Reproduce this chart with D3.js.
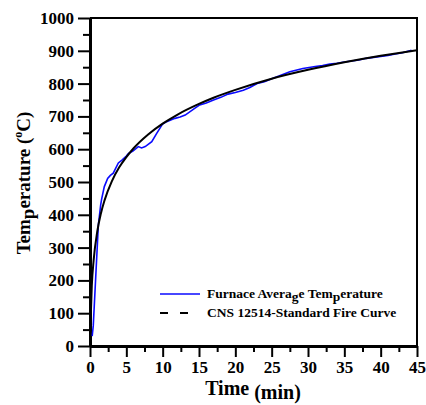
<!DOCTYPE html>
<html>
<head>
<meta charset="utf-8">
<script src="https://cdn.jsdelivr.net/npm/d3@7.9.0/dist/d3.min.js"></script>
<style>
  body { margin: 0; background: #fff; }
  svg { display: block; }
  text { font-family: "Liberation Serif", "Times New Roman", serif; font-weight: bold; fill: #000; }
</style>
</head>
<body>
<svg id="chart" width="426" height="405"></svg>
<script>
// standard fire curve
const fireTime = [0, 0.25, 0.5, 1, 1.5, 2, 3, 4, 5, 6, 8, 10, 12, 15, 17, 20, 25, 30, 35, 40, 45];
const fireTemp = [20, 185, 261, 349, 404, 444, 502, 544, 576, 603, 645, 678, 705, 738, 757, 781, 815, 842, 865, 885, 902];

// furnace average temperature
const furnaceTime = [0.3, 0.45, 1.15, 1.47, 1.6, 1.97, 2.43, 2.8, 3.2, 3.9, 4.4, 5.0, 5.3, 5.9, 6.65, 7.1, 7.6, 8.5, 9.2, 10.0, 10.55, 11.2, 11.7, 12.4, 13.1, 14.45, 15.1, 16, 17, 18, 19, 20, 21.1, 22, 23, 24, 25, 26, 27.5, 29.3, 31, 32, 33, 34, 35, 36, 37, 38, 39, 40, 41, 42, 43, 44.25];
const furnaceTemp = [30, 62, 369, 430, 448, 486, 511, 520, 527, 558, 567, 579, 587, 594, 608, 604, 608, 623, 649, 677, 684, 690, 694, 698, 704, 725, 735, 741, 750, 758, 768, 773, 780, 788, 800, 806, 815, 823, 836, 846, 852, 855, 860, 862, 866, 869, 872, 877, 880, 883, 886, 890, 894, 902];

const xMajor = d3.range(0, 46, 5);
const yMajor = d3.range(0, 1001, 100);

const svg = d3.select('#chart');
const plotL = 90, plotR = 417, plotT = 18, plotB = 346;

const x = d3.scaleLinear().domain([0, 45]).range([plotL, plotR]);
const y = d3.scaleLinear().domain([0, 1000]).range([plotB, plotT]);

// frame top / right
svg.append('path')
  .attr('d', `M${plotL},${plotT}H${plotR}V${plotB}`)
  .attr('fill', 'none').attr('stroke', '#000').attr('stroke-width', 2);

// y axis
const yAxis = svg.append('g').attr('transform', `translate(${plotL},0)`);
yAxis.call(d3.axisLeft(y).tickValues(d3.range(50, 1000, 100)).tickSize(7).tickFormat(''));
yAxis.call(g => g.select('.domain').remove());
const yAxis2 = svg.append('g').attr('transform', `translate(${plotL},0)`)
  .call(d3.axisLeft(y).tickValues(yMajor).tickSize(12).tickPadding(4).tickSizeOuter(0).tickFormat(d3.format('d')));
yAxis2.select('.domain').attr('stroke-width', 3);

// x axis
const xAxis = svg.append('g').attr('transform', `translate(0,${plotB})`)
  .call(d3.axisBottom(x).tickValues(d3.range(2.5, 45, 5)).tickSize(6).tickFormat(''));
xAxis.select('.domain').remove();
const xAxis2 = svg.append('g').attr('transform', `translate(0,${plotB})`)
  .call(d3.axisBottom(x).tickValues(xMajor).tickSize(11).tickPadding(4).tickSizeOuter(0).tickFormat(d3.format('d')));
xAxis2.select('.domain').attr('stroke-width', 3);

[yAxis2, xAxis2].forEach(g => g
  .attr('font-family', '"Liberation Serif", serif')
  .attr('font-size', 17)
  .attr('font-weight', 'bold'));
svg.selectAll('.tick line').attr('stroke-width', 2);

// curves
const fireLine = d3.line().x(d => x(d[0])).y(d => y(d[1])).curve(d3.curveMonotoneX);
const furnLine = d3.line().x(d => x(d[0])).y(d => y(d[1]));

svg.append('path')
  .datum(furnaceTime.map((t, i) => [t, furnaceTemp[i]]))
  .attr('d', furnLine)
  .attr('fill', 'none').attr('stroke', '#0a0aff').attr('stroke-width', 1.6);

svg.append('path')
  .datum(fireTime.map((t, i) => [t, fireTemp[i]]))
  .attr('d', fireLine)
  .attr('fill', 'none').attr('stroke', '#000').attr('stroke-width', 2);

// legend
const leg = svg.append('g');
leg.append('line').attr('x1', 160).attr('x2', 200).attr('y1', 294).attr('y2', 294)
  .attr('stroke', '#0a0aff').attr('stroke-width', 1.6);
leg.append('line').attr('x1', 160).attr('x2', 200).attr('y1', 313).attr('y2', 313)
  .attr('stroke', '#000').attr('stroke-width', 2).attr('stroke-dasharray', '8,12');

const t1 = leg.append('text').attr('x', 207).attr('y', 298).attr('font-size', 13.5);
t1.append('tspan').text('Furnace Avera');
t1.append('tspan').attr('dy', 3).text('g');
t1.append('tspan').attr('dy', -3).text('e Tem');
t1.append('tspan').attr('dy', 3).text('p');
t1.append('tspan').attr('dy', -3).text('erature');

leg.append('text').attr('x', 207).attr('y', 317).attr('font-size', 13.5)
  .text('CNS 12514-Standard Fire Curve');

// axis titles
const xt = svg.append('text').attr('x', 253).attr('y', 395).attr('text-anchor', 'middle').attr('font-size', 20);
xt.append('tspan').text('Time ');
xt.append('tspan').attr('dy', 4).text('(min)');

const yt = svg.append('text').attr('transform', 'translate(30,183) rotate(-90)')
  .attr('text-anchor', 'middle').attr('font-size', 19);
yt.append('tspan').text('Tem');
yt.append('tspan').attr('dy', 4).text('p');
yt.append('tspan').attr('dy', -4).text('erature (');
yt.append('tspan').attr('dy', -8).attr('font-size', 12).text('o');
yt.append('tspan').attr('dy', 8).text('C)');
</script>
</body>
</html>
